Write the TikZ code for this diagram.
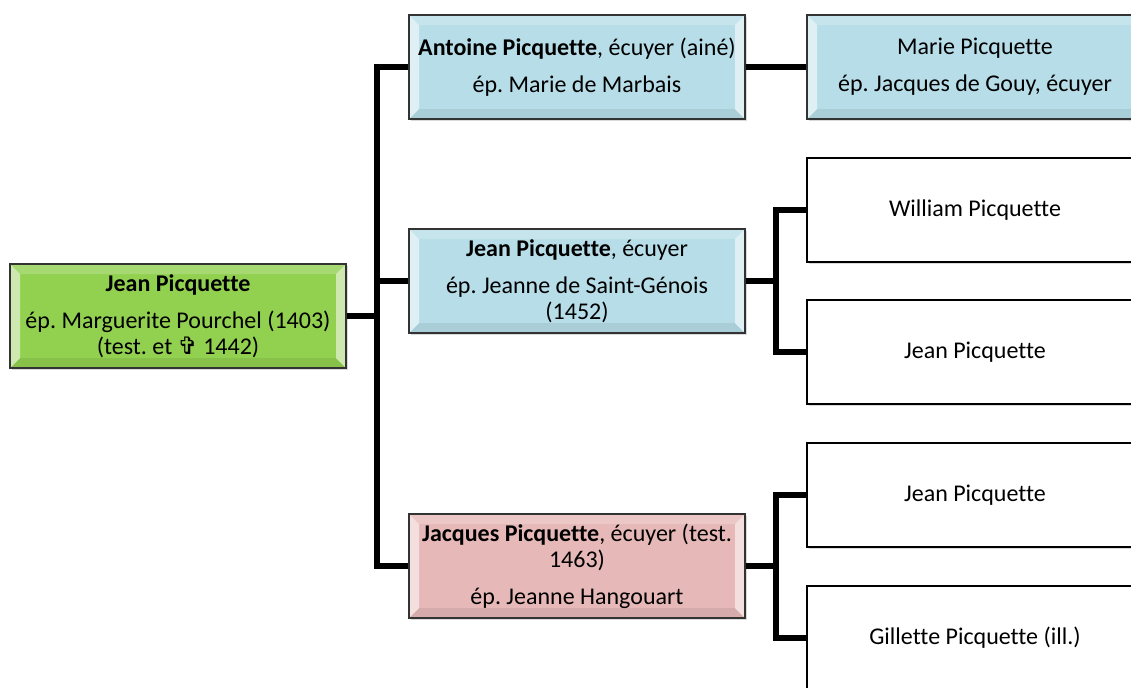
\documentclass[tikz,border=0pt]{standalone}
\usepackage{fontspec}
\setmainfont{Carlito}[Ligatures=NoCommon]
\newfontfamily\symb{DejaVu Sans}
\usepackage{xcolor}
\definecolor{gen0}{HTML}{92D050}
\definecolor{gen1}{HTML}{B7DEE8}
\definecolor{gen1r}{HTML}{E6B9B8}
\usetikzlibrary{shadows}
\frenchspacing

\begin{document}
\begin{tikzpicture}[x=0.5pt,y=-0.5pt,
  person/.style={draw=black!80,line width=0.7pt,minimum width=168pt,minimum height=52pt,
    inner sep=0pt,align=center,font=\fontsize{12}{13}\selectfont,
    drop shadow={shadow xshift=1pt,shadow yshift=-1.2pt,opacity=0.3}},
  bevel/.style={path picture={
    \path (path picture bounding box.north west) coordinate (nw)
          (path picture bounding box.south west) coordinate (sw)
          (path picture bounding box.north east) coordinate (ne)
          (path picture bounding box.south east) coordinate (se);
    \fill[white,opacity=0.2] (nw) -- ([shift={(5pt,-5pt)}]nw) -- ([shift={(-5pt,-5pt)}]ne) -- (ne) -- cycle;
    \fill[black,opacity=0.07] (sw) -- ([shift={(5pt,5pt)}]sw) -- ([shift={(-5pt,5pt)}]se) -- (se) -- cycle;
    \fill[white,opacity=0.55] (nw) -- ([shift={(5pt,-5pt)}]nw) -- ([shift={(5pt,5pt)}]sw) -- (sw) -- cycle;
    \fill[white,opacity=0.55] (ne) -- ([shift={(-5pt,-5pt)}]ne) -- ([shift={(-5pt,5pt)}]se) -- (se) -- cycle;
  }},
  leaf/.style={person,fill=white,draw=black},
  link/.style={line width=2.6pt}]

  \clip (0,0) rectangle (1131,687);

  % first generation
  \node[person,bevel,fill=gen0](root) at (178,316)
    {\textbf{Jean Picquette}\\[5.5pt]ép. Marguerite Pourchel (1403)\\(test. et {\symb ✞} 1442)};

  % children
  \node[person,bevel,fill=gen1](antoine) at (577,67)
    {\textbf{Antoine Picquette}, écuyer (ainé)\\[5.5pt]ép. Marie de Marbais};
  \node[person,bevel,fill=gen1](jean) at (577,281)
    {\textbf{Jean Picquette}, écuyer\\[5.5pt]ép. Jeanne de Saint-Génois\\(1452)};
  \node[person,bevel,fill=gen1r](jacques) at (577,566)
    {\textbf{Jacques Picquette}, écuyer (test.\\1463)\\[5.5pt]ép. Jeanne Hangouart};

  % grandchildren
  \node[person,bevel,fill=gen1](marie) at (975,67)
    {Marie Picquette\\[5.5pt]ép. Jacques de Gouy, écuyer};
  \node[leaf](william) at (975,210) {William Picquette};
  \node[leaf](jeanb) at (975,352) {Jean Picquette};
  \node[leaf](jeanc) at (975,495) {Jean Picquette};
  \node[leaf](gillette) at (975,638) {Gillette Picquette (ill.)};

  % links
  \coordinate (r) at (377,316);
  \draw[link] (antoine.west) -| (r) |- (jacques.west);
  \draw[link] (root.east) -- (r) |- (jean.west);
  \draw[link] (antoine.east) -- (marie.west);

  \coordinate (m) at (776,281);
  \draw[link] (william.west) -| (m) |- (jeanb.west);
  \draw[link] (jean.east) -- (m);

  \coordinate (j) at (776,566);
  \draw[link] (jeanc.west) -| (j) |- (gillette.west);
  \draw[link] (jacques.east) -- (j);

\end{tikzpicture}
\end{document}
